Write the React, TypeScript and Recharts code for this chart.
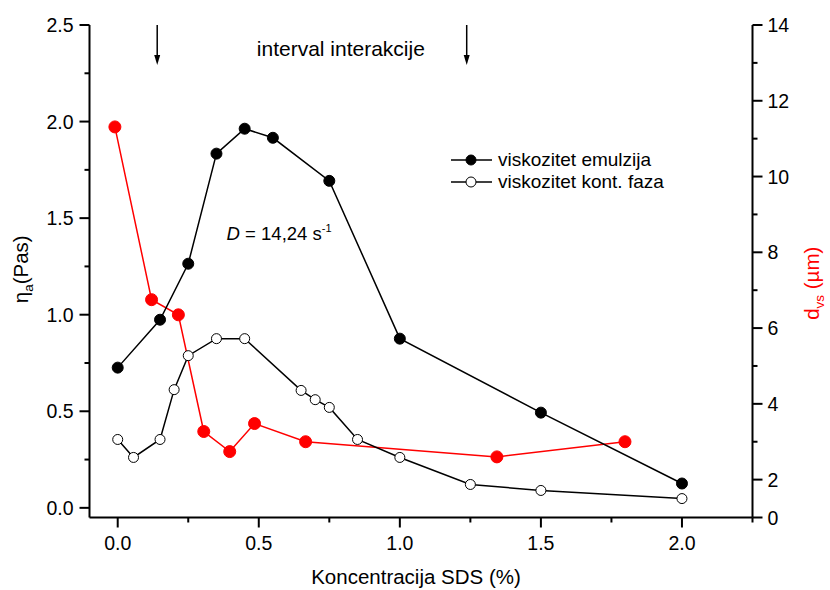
import React from 'react';
import {
  ComposedChart,
  Line,
  XAxis,
  YAxis,
  Legend,
  ReferenceLine,
  ReferenceDot,
} from 'recharts';

// viskozitet emulzija (Pas)
const emulX = [0, 0.15, 0.25, 0.35, 0.45, 0.55, 0.75, 1.0, 1.5, 2.0];
const emulY = [0.726, 0.974, 1.264, 1.834, 1.963, 1.916, 1.693, 0.876, 0.493, 0.126];

// viskozitet kont. faza (Pas)
const kontX = [0, 0.056, 0.15, 0.2, 0.25, 0.35, 0.45, 0.65, 0.7, 0.75, 0.85, 1.0, 1.25, 1.5, 2.0];
const kontY = [0.354, 0.261, 0.354, 0.612, 0.788, 0.876, 0.876, 0.608, 0.56, 0.52, 0.354, 0.261, 0.121, 0.09, 0.048];

// d_vs (um), desna os
const dvsX = [-0.01, 0.12, 0.215, 0.305, 0.397, 0.485, 0.666, 1.344, 1.798];
const dvsY = [11.31, 6.75, 6.35, 3.27, 2.74, 3.48, 3.0, 2.6, 3.0];

const xMajor = [0, 0.5, 1.0, 1.5, 2.0];
const xMinor = [0.25, 0.75, 1.25, 1.75, 2.25];
const leftMajor = [0, 0.5, 1.0, 1.5, 2.0, 2.5];
const leftMinor = [0.25, 0.75, 1.25, 1.75, 2.25];
const rightMajor = [1, 2, 4, 6, 8, 10, 12, 14];
const rightMinor = [3, 5, 7, 9, 11, 13];
const topTicks = [-0.011, 0.44, 0.893, 1.345, 1.798];

const legendItems = [
  { name: 'viskozitet emulzija', fill: '#000' },
  { name: 'viskozitet kont. faza', fill: '#fff' },
];

const emulData = emulX.map((x, i) => ({ x, y: emulY[i] }));
const kontData = kontX.map((x, i) => ({ x, y: kontY[i] }));
const dvsData = dvsX.map((x, i) => ({ x, y: dvsY[i] }));

const FONT = '"Liberation Sans", Arial, sans-serif';
const RED = '#ff0000';
const TICK_FS = 19.5;

const BottomTick = (props: any) => {
  const { x, y, payload } = props;
  const major = xMajor.includes(payload.value);
  return (
    <g>
      <line x1={x} x2={x} y1={y} y2={y + (major ? 10 : 5)} stroke="#000" strokeWidth={2} />
      {major && (
        <text x={x} y={y + 32} textAnchor="middle" fontSize={TICK_FS} fontFamily={FONT} fill="#000">
          {payload.value.toFixed(1)}
        </text>
      )}
    </g>
  );
};

const TopTick = (props: any) => {
  const { x, y } = props;
  return <line x1={x} x2={x} y1={y - 1.5} y2={y + 1.5} stroke="#000" strokeWidth={1.5} />;
};

const LeftTick = (props: any) => {
  const { x, y, payload } = props;
  const major = leftMajor.includes(payload.value);
  return (
    <g>
      <line x1={x} x2={x - (major ? 10 : 5)} y1={y} y2={y} stroke="#000" strokeWidth={2} />
      {major && (
        <text x={x - 16} y={y + 7} textAnchor="end" fontSize={TICK_FS} fontFamily={FONT} fill="#000">
          {payload.value.toFixed(1)}
        </text>
      )}
    </g>
  );
};

const RightTick = (props: any) => {
  const { x, y, payload } = props;
  const major = rightMajor.includes(payload.value);
  return (
    <g>
      <line x1={x} x2={x + (major ? 10 : 5)} y1={y} y2={y} stroke="#000" strokeWidth={2} />
      {major && (
        <text x={x + 15} y={y + 7} textAnchor="start" fontSize={TICK_FS} fontFamily={FONT} fill="#000">
          {payload.value === 1 ? '0' : String(payload.value)}
        </text>
      )}
    </g>
  );
};

const Arrow = (props: any) => {
  const { x1, y1, x2, y2 } = props;
  const tipY = Math.max(y1, y2);
  const topY = Math.min(y1, y2);
  return (
    <g>
      <line x1={x1} x2={x2} y1={topY} y2={tipY - 8} stroke="#000" strokeWidth={1.5} />
      <path d={`M${x1 - 3},${tipY - 10} L${x1 + 3},${tipY - 10} L${x1},${tipY} Z`} fill="#000" />
    </g>
  );
};

const renderLegend = () => (
  <div style={{ fontFamily: FONT, fontSize: 19, color: '#000' }}>
    {legendItems.map((it) => (
      <div key={it.name} style={{ display: 'flex', alignItems: 'center', height: 22, whiteSpace: 'nowrap' }}>
        <svg width={41} height={22}>
          <line x1={0} x2={41} y1={11} y2={11} stroke="#000" strokeWidth={1.5} />
          <circle cx={20} cy={11} r={5} fill={it.fill} stroke="#000" strokeWidth={1} />
        </svg>
        <span style={{ marginLeft: 6 }}>{it.name}</span>
      </div>
    ))}
  </div>
);

export default function App() {
  return (
    <div style={{ position: 'absolute', left: 0, top: 0, background: '#fff' }}>
      <ComposedChart
        width={830}
        height={590}
        margin={{ top: 25, right: 17.5, bottom: 22.5, left: 29.5 }}
      >
        <XAxis
          xAxisId="bottom"
          dataKey="x"
          type="number"
          domain={[-0.1, 2.25]}
          allowDataOverflow
          ticks={[...xMajor, ...xMinor]}
          interval={0}
          tickSize={0}
          tickMargin={0}
          tick={<BottomTick />}
          axisLine={{ stroke: '#000', strokeWidth: 2 }}
          height={50}
          label={{
            content: (p: any) => {
              const vb = p.viewBox;
              return (
                <text x={vb.x + vb.width / 2 - 5} y={vb.y + 66} textAnchor="middle" fontSize={20.5} fontFamily={FONT} fill="#000">
                  Koncentracija SDS (%)
                </text>
              );
            },
          }}
        />
        <XAxis
          xAxisId="top"
          orientation="top"
          dataKey="x"
          type="number"
          domain={[-0.1, 2.25]}
          allowDataOverflow
          ticks={topTicks}
          interval={0}
          tickSize={0}
          tickMargin={0}
          tick={<TopTick />}
          axisLine={{ stroke: '#000', strokeWidth: 2 }}
          height={0}
        />
        <YAxis
          yAxisId="left"
          type="number"
          domain={[-0.05, 2.5]}
          allowDataOverflow
          ticks={[...leftMajor, ...leftMinor]}
          interval={0}
          tickSize={0}
          tickMargin={0}
          tick={<LeftTick />}
          axisLine={{ stroke: '#000', strokeWidth: 2 }}
          width={60}
          label={{
            content: (p: any) => {
              const vb = p.viewBox;
              const cx = vb.x - 1.5;
              const cy = vb.y + vb.height / 2 - 2;
              return (
                <text x={cx} y={cy} transform={`rotate(-90, ${cx}, ${cy})`} textAnchor="middle" fontSize={20.5} fontFamily={FONT} fill="#000">
                  η<tspan dy={5} fontSize={13.5}>a</tspan>
                  <tspan dy={-5}>(Pas)</tspan>
                </text>
              );
            },
          }}
        />
        <YAxis
          yAxisId="right"
          orientation="right"
          type="number"
          domain={[1, 14]}
          allowDataOverflow
          ticks={[...rightMajor, ...rightMinor]}
          interval={0}
          tickSize={0}
          tickMargin={0}
          tick={<RightTick />}
          axisLine={{ stroke: '#000', strokeWidth: 2 }}
          width={60}
          label={{
            content: (p: any) => {
              const vb = p.viewBox;
              const cx = vb.x + vb.width + 6;
              const cy = vb.y + vb.height / 2 + 12;
              return (
                <text x={cx} y={cy} transform={`rotate(-90, ${cx}, ${cy})`} textAnchor="middle" fontSize={20.5} fontFamily={FONT} fill={RED}>
                  d<tspan dy={5} fontSize={13.5}>vs</tspan>
                  <tspan dy={-5}> (µm)</tspan>
                </text>
              );
            },
          }}
        />
        <Legend
          layout="vertical"
          align="center"
          verticalAlign="middle"
          content={renderLegend}
          wrapperStyle={{ left: 451, top: 149, width: 260, height: 44 }}
        />
        <ReferenceLine
          xAxisId="bottom"
          yAxisId="left"
          segment={[{ x: 0.14, y: 2.5 }, { x: 0.14, y: 2.293 }]}
          shape={<Arrow />}
          ifOverflow="visible"
        />
        <ReferenceLine
          xAxisId="bottom"
          yAxisId="left"
          segment={[{ x: 1.237, y: 2.5 }, { x: 1.237, y: 2.293 }]}
          shape={<Arrow />}
          ifOverflow="visible"
        />
        <ReferenceDot
          xAxisId="bottom"
          yAxisId="left"
          x={0.493}
          y={2.34}
          r={0}
          ifOverflow="visible"
          shape={(p: any) => (
            <text x={p.cx} y={p.cy} fontSize={21} fontFamily={FONT} fill="#000">
              interval interakcije
            </text>
          )}
        />
        <ReferenceDot
          xAxisId="bottom"
          yAxisId="left"
          x={0.386}
          y={1.388}
          r={0}
          ifOverflow="visible"
          shape={(p: any) => (
            <text x={p.cx} y={p.cy} fontSize={18.5} fontFamily={FONT} fill="#000">
              <tspan fontStyle="italic">D</tspan>
              <tspan> = 14,24 s</tspan>
              <tspan dy={-8} fontSize={11}>-1</tspan>
            </text>
          )}
        />
        <Line
          xAxisId="bottom"
          yAxisId="right"
          data={dvsData}
          dataKey="y"
          stroke={RED}
          strokeWidth={1.5}
          dot={{ r: 6, fill: RED, stroke: RED, strokeWidth: 1 }}
          isAnimationActive={false}
          legendType="none"
        />
        <Line
          xAxisId="bottom"
          yAxisId="left"
          data={kontData}
          dataKey="y"
          stroke="#000"
          strokeWidth={1.5}
          dot={{ r: 5, fill: '#fff', stroke: '#000', strokeWidth: 1 }}
          isAnimationActive={false}
        />
        <Line
          xAxisId="bottom"
          yAxisId="left"
          data={emulData}
          dataKey="y"
          stroke="#000"
          strokeWidth={1.5}
          dot={{ r: 5.5, fill: '#000', stroke: '#000', strokeWidth: 1 }}
          isAnimationActive={false}
        />
      </ComposedChart>
    </div>
  );
}
